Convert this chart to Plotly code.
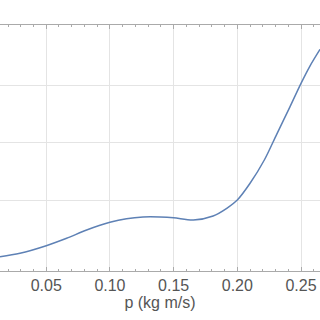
import plotly.graph_objects as go

p_vals = [0.0137, 0.0294, 0.05, 0.066, 0.0817, 0.10, 0.113, 0.126, 0.1393, 0.15,
          0.1655, 0.181, 0.1917, 0.20, 0.21, 0.2212, 0.2309, 0.2413, 0.25, 0.257, 0.2649]
y_vals = [0.019, 0.078, 0.210, 0.339, 0.483, 0.617, 0.680, 0.710, 0.710, 0.697,
          0.657, 0.727, 0.861, 1.005, 1.296, 1.701, 2.148, 2.626, 3.035, 3.336, 3.626]
x_ticks = [0.05, 0.10, 0.15, 0.20, 0.25]
x_tick_labels = ["0.05", "0.10", "0.15", "0.20", "0.25"]
y_grid = [1, 2, 3]

fig = go.Figure()
fig.add_trace(go.Scatter(x=p_vals, y=y_vals, mode="lines",
                         line=dict(color="rgb(94,129,181)", width=1.5, shape="spline", smoothing=0.9),
                         showlegend=False, hoverinfo="skip"))

fig.update_layout(
    width=320, height=320,
    margin=dict(l=0, r=0, t=25, b=49, autoexpand=False),
    paper_bgcolor="white", plot_bgcolor="white",
    font=dict(family="Liberation Sans, Arial, sans-serif", color="#555555"),
)
fig.update_xaxes(
    range=[0.0137, 0.2649], automargin=False,
    tickvals=x_ticks, ticktext=x_tick_labels,
    ticks="inside", ticklen=4, tickcolor="#aaaaaa", tickwidth=1,
    minor=dict(ticks="inside", ticklen=2, dtick=0.01, tick0=0, tickcolor="#aaaaaa", showgrid=False),
    showline=True, linecolor="#aaaaaa", linewidth=1, mirror="ticks",
    showgrid=True, gridcolor="#e4e4e4", gridwidth=1,
    zeroline=False,
    tickfont=dict(size=16, color="#555555"),
    title=dict(text="p (kg m/s)", font=dict(size=16, color="#555555"), standoff=2),
)
fig.update_yaxes(
    range=[-0.23, 4.05], automargin=False,
    tickvals=y_grid, showticklabels=False, ticks="",
    showgrid=True, gridcolor="#e4e4e4", gridwidth=1,
    showline=False, zeroline=False,
)

fig.write_html("out.html", config={"displayModeBar": False},
               post_script="document.body.style.margin='0';document.body.style.overflow='hidden';")
